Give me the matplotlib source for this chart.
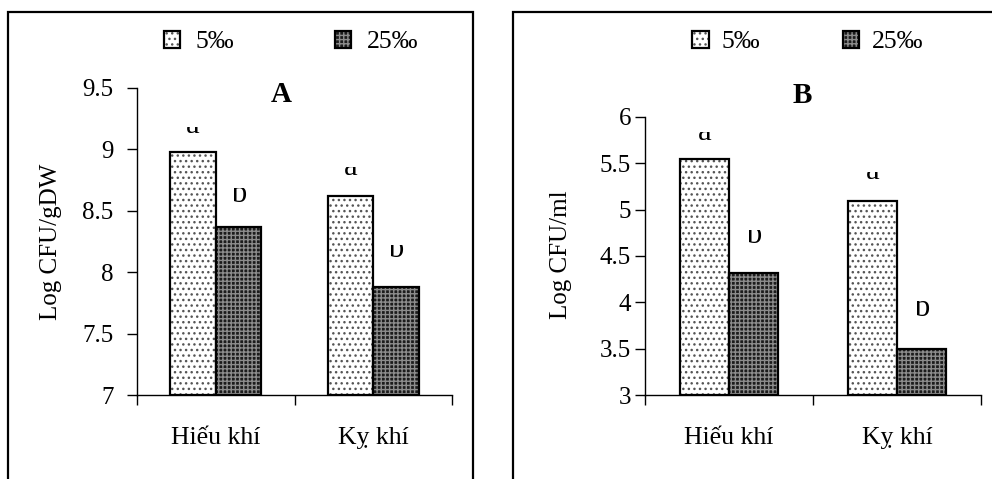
import matplotlib
matplotlib.use("Agg")
import matplotlib.pyplot as plt
from matplotlib.patches import Rectangle
from matplotlib.transforms import IdentityTransform

plt.rcParams['font.family'] = ['Liberation Serif', 'DejaVu Serif']
plt.rcParams['hatch.linewidth'] = 1.0

# data
categories = ["Hiếu khí", "Kỵ khí"]
series = ["5‰", "25‰"]
vals_A = {"5‰": [8.98, 8.62], "25‰": [8.37, 7.88]}
vals_B = {"5‰": [5.55, 5.09], "25‰": [4.32, 3.50]}
letters = {"5‰": ["a", "a"], "25‰": ["b", "b"]}
yticks_A = [7, 7.5, 8, 8.5, 9, 9.5]
yticks_B = [3, 3.5, 4, 4.5, 5, 5.5, 6]

W, H = 992, 479
fig = plt.figure(figsize=(W / 100, H / 100), dpi=100)

styles = {
    "5‰": dict(face="white", hatch="...", hcol="#555555"),
    "25‰": dict(face="#1c1c1c", hatch="++++", hcol="#8c8c8c"),
}
width = 0.29
offs = {"5‰": -0.145, "25‰": 0.145}


def panel(rect, vals, yticks, ylab, title, title_xy, ylab_xy, ypad, lab_off, leg_x, colsp, txtpad):
    ax = fig.add_axes(rect)
    ax.set_xlim(-0.5, len(categories) - 0.5)
    ax.set_ylim(yticks[0], yticks[-1])
    handles = []
    for s in series:
        st = styles[s]
        xs = [i + offs[s] for i in range(len(categories))]
        b1 = ax.bar(xs, [v - yticks[0] for v in vals[s]], width, bottom=yticks[0],
                    color=st["face"], hatch=st["hatch"], edgecolor=st["hcol"], linewidth=0)
        b2 = ax.bar(xs, [v - yticks[0] for v in vals[s]], width, bottom=yticks[0],
                    fill=False, edgecolor="black", linewidth=1.6)
        handles.append((b1.patches[0], b2.patches[0]))
    ax.set_xlim(-0.5, len(categories) - 0.5)
    ax.set_ylim(yticks[0], yticks[-1])
    # significance letters, top part clipped like in the source
    for s in series:
        xs = [i + offs[s] for i in range(len(categories))]
        for x, v, t, (off, vis) in zip(xs, vals[s], letters[s], lab_off[s]):
            px, py = ax.transData.transform((x, v))
            py += off
            txt = ax.text(px, py, t, transform=IdentityTransform(), ha="center",
                          va="baseline", fontsize=22)
            clip = Rectangle((px - 20, py - 8), 40, vis + 8, transform=IdentityTransform())
            txt.set_clip_path(clip)
            txt.set_clip_on(True)
    ax.set_yticks(yticks)
    ax.set_yticklabels([f"{t:g}" for t in yticks])
    ax.set_xticks([i - 0.5 for i in range(len(categories) + 1)])
    ax.set_xticklabels([])
    ax.set_xticks(range(len(categories)), minor=True)
    ax.set_xticklabels(categories, minor=True, fontsize=18.5)
    ax.tick_params(axis="x", which="major", length=7, width=1, direction="out")
    ax.tick_params(axis="x", which="minor", length=0, pad=23)
    ax.tick_params(axis="y", length=7, width=1, labelsize=18, pad=ypad)
    for sp in ["top", "right"]:
        ax.spines[sp].set_visible(False)
    for sp in ["left", "bottom"]:
        ax.spines[sp].set_linewidth(1)
    ax.set_ylabel(ylab, fontsize=18)
    ax.yaxis.set_label_coords(*ylab_xy)
    ax.text(*title_xy, title, transform=ax.transAxes, ha="center", va="baseline",
            fontsize=21, fontweight="bold")
    fig.legend(handles, series, loc="center", bbox_to_anchor=(leg_x, 1 - 42 / H), ncol=2,
               frameon=False, fontsize=18.5, handlelength=0.65, handleheight=0.65,
               handletextpad=txtpad, columnspacing=colsp)
    return ax


# offsets of letters above bar tops (px) and visible height (px)
off_A = {"5‰": [(19, 6), (21, 8)], "25‰": [(25, 14), (30, 12)]}
off_B = {"5‰": [(19, 8), (22, 7)], "25‰": [(30, 13), (33, 15)]}

panel([137 / W, 1 - 395 / H, 315 / W, 307 / H], vals_A, yticks_A, "Log CFU/gDW", "A",
      (0.457, 0.955), (-0.238, 0.5), 10, off_A, 291 / W, 3.9, 0.6)
panel([645 / W, 1 - 395 / H, 336 / W, 278 / H], vals_B, yticks_B, "Log CFU/ml", "B",
      (0.467, 1.05), (-0.217, 0.504), 3, off_B, 808 / W, 3.2, 0.5)

# frames around the two panels
fig.add_artist(Rectangle((8 / W, -0.1), 465 / W, 1.1 - 12 / H, transform=fig.transFigure,
                         fill=False, edgecolor="black", linewidth=1.6))
fig.add_artist(Rectangle((513 / W, -0.1), 0.6, 1.1 - 12 / H, transform=fig.transFigure,
                         fill=False, edgecolor="black", linewidth=1.6))

fig.savefig("out.png", dpi=100)
